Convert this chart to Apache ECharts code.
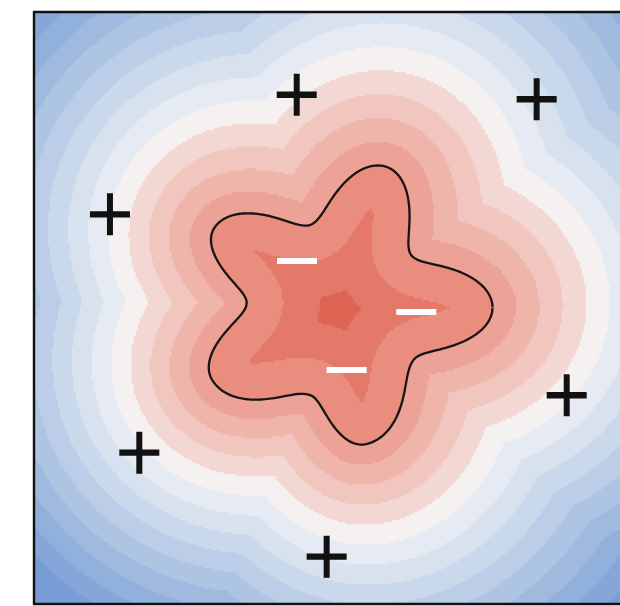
<!DOCTYPE html>
<html>
<head>
<meta charset="utf-8">
<script src="https://cdn.jsdelivr.net/npm/echarts@6/dist/echarts.min.js"></script>
<style>
html,body{margin:0;padding:0;background:#fff;}
#c{width:620px;height:606px;}
</style>
</head>
<body>
<div id="c"></div>
<script>
// ---- data (plot units; the full square plot spans -3..3, its right edge is cut by the page) ----
const plusX  = [-0.343, 2.093, -2.239, 2.398, -1.941, -0.039];
const plusY  = [ 2.160, 2.114,  0.946, -0.891, -1.474, -2.530];
const minusX = [-0.340, 0.871, 0.164];
const minusY = [ 0.472, -0.046, -0.635];
// decision boundary (star): centre, alternating tip / valley angles (deg) and radii (units)
const starCenter = [0.102, 0.0];
const starAngles = [0, 36.5, 72, 110, 148, 177.4, 209, 250.8, 280, 324.2];
const starRadii  = [1.543, 0.893, 1.502, 0.893, 1.515, 0.954, 1.497, 0.941, 1.411, 0.912];
// filled contour levels of the decision function
const levels = [-0.74, -0.37, 0, 0.22, 0.44, 0.66, 0.88, 1.10, 1.32, 1.54, 1.76, 1.98, 2.20, 2.42, 2.64, 2.86];
const bandColors = [
  'rgb(222,100,84)','rgb(228,122,105)','rgb(233,143,127)','rgb(236,163,150)',
  'rgb(239,181,171)','rgb(241,198,191)','rgb(243,215,210)','rgb(246,241,241)',
  'rgb(230,235,243)','rgb(216,226,239)','rgb(202,216,235)','rgb(188,206,231)',
  'rgb(174,196,227)','rgb(160,186,223)','rgb(147,176,220)','rgb(134,166,217)',
  'rgb(122,157,214)'
];
// visible window of the plot
const xRange = [-3.0102, 2.9391];
const yRange = [-3.0102, 3.0];
const nx = 293, ny = 296;

// ---- helpers ----
function boundaryRadius(thDeg) {
  const A = starAngles.concat([starAngles[0] + 360]);
  const R = starRadii.concat([starRadii[0]]);
  let th = ((thDeg % 360) + 360) % 360;
  for (let i = 0; i < A.length - 1; i++) {
    if (th >= A[i] && th <= A[i + 1]) {
      const t = (th - A[i]) / (A[i + 1] - A[i]);
      return R[i] + (R[i + 1] - R[i]) * (1 - Math.cos(Math.PI * t)) / 2;
    }
  }
  return R[0];
}
const NB = 1440;
const bx = [], by = [];
for (let k = 0; k <= NB; k++) {
  const th = k * 360 / NB;
  const r = boundaryRadius(th);
  bx.push(starCenter[0] + r * Math.cos(th * Math.PI / 180));
  by.push(starCenter[1] + r * Math.sin(th * Math.PI / 180));
}
const boundaryLine = bx.map((x, i) => [x, by[i]]);

const xCats = [], yCats = [];
for (let i = 0; i < nx; i++) xCats.push(String(i));
for (let j = 0; j < ny; j++) yCats.push(String(j));
const cw = (xRange[1] - xRange[0]) / nx;
const ch = (yRange[1] - yRange[0]) / ny;
const field = [];
for (let i = 0; i < nx; i++) {
  const x = xRange[0] + (i + 0.5) * cw;
  for (let j = 0; j < ny; j++) {
    const y = yRange[0] + (j + 0.5) * ch;
    let m = Infinity;
    for (let k = 0; k < NB; k++) {
      const dx = x - bx[k], dy = y - by[k];
      const q = dx * dx + dy * dy;
      if (q < m) m = q;
    }
    let d = Math.sqrt(m);
    const rx = x - starCenter[0], ry = y - starCenter[1];
    const rr = Math.sqrt(rx * rx + ry * ry);
    const thr = Math.atan2(ry, rx);
    const th = thr * 180 / Math.PI;
    if (rr < boundaryRadius(th)) d = -d;
    else d = d / (1 + 0.12 * Math.cos(thr - Math.PI / 4));
    field.push([i, j, d]);
  }
}
const pieces = [];
for (let k = 0; k <= levels.length; k++) {
  const p = { color: bandColors[k] };
  if (k > 0) p.gte = levels[k - 1];
  if (k < levels.length) p.lt = levels[k];
  pieces.push(p);
}

const chart = echarts.init(document.getElementById('c'), null, { renderer: 'canvas' });
const frameLine = { show: true, onZero: false, lineStyle: { color: '#111', width: 2.4 } };
const noLine = { show: false, onZero: false };
const hide = { axisTick: { show: false }, axisLabel: { show: false }, splitLine: { show: false } };
chart.setOption({
  animation: false,
  grid: { left: 34, top: 12, width: 586, height: 592, show: false },
  xAxis: [
    Object.assign({ type: 'category', data: xCats, position: 'bottom', z: 10, axisLine: frameLine }, hide),
    Object.assign({ type: 'value', min: xRange[0], max: xRange[1], position: 'top', z: 10, axisLine: frameLine }, hide)
  ],
  yAxis: [
    Object.assign({ type: 'category', data: yCats, position: 'left', z: 10, axisLine: frameLine }, hide),
    Object.assign({ type: 'value', min: yRange[0], max: yRange[1], position: 'right', z: 10, axisLine: noLine }, hide)
  ],
  visualMap: { type: 'piecewise', show: false, seriesIndex: 0, dimension: 2, pieces: pieces },
  series: [
    { type: 'heatmap', data: field, xAxisIndex: 0, yAxisIndex: 0, progressive: 0, silent: true, itemStyle: { borderWidth: 0 } },
    { type: 'line', data: boundaryLine, xAxisIndex: 1, yAxisIndex: 1, showSymbol: false, symbol: 'none', smooth: false, silent: true, z: 5,
      lineStyle: { color: '#151515', width: 2.3 } },
    { type: 'scatter', data: plusX.map((x, i) => [x, plusY[i]]), xAxisIndex: 1, yAxisIndex: 1, z: 6, silent: true,
      symbol: 'path://M17,0H23V17H40V23H23V40H17V23H0V17H17Z', symbolSize: [40, 42], itemStyle: { color: '#111', opacity: 1 } },
    { type: 'scatter', data: minusX.map((x, i) => [x, minusY[i]]), xAxisIndex: 1, yAxisIndex: 1, z: 6, silent: true,
      symbol: 'rect', symbolSize: [40, 6], itemStyle: { color: '#fff', opacity: 1 } }
  ]
});
</script>
</body>
</html>
